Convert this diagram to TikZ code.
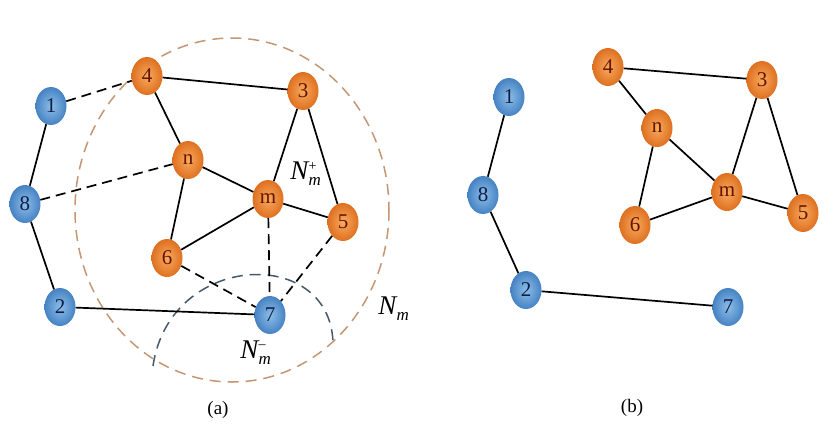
\documentclass[tikz,border=0pt]{standalone}
\usepackage{fontspec}
\setmainfont{Liberation Serif}
\usetikzlibrary{shapes.geometric}
\definecolor{orout}{RGB}{222,112,32}
\definecolor{orin}{RGB}{248,170,95}
\definecolor{blout}{RGB}{70,130,195}
\definecolor{blin}{RGB}{140,190,232}
\definecolor{ortxt}{RGB}{100,20,0}
\definecolor{bltxt}{RGB}{15,30,70}
\definecolor{bigring}{RGB}{196,150,115}
\definecolor{smallring}{RGB}{70,88,108}
\newcommand{\nlab}[2]{\textit{N}\kern-1pt$^{\mbox{\fontsize{14}{14}\selectfont #2}}_{\mbox{\fontsize{17}{17}\selectfont\textit{#1}}}$}
\begin{document}
\begin{tikzpicture}[x=1pt,y=-1pt,
  vert/.style={ellipse,minimum width=31pt,minimum height=38pt,inner sep=0pt,
    font=\fontsize{21}{21}\selectfont},
  orv/.style={vert,shading=radial,inner color=orin,outer color=orout,text=ortxt},
  blv/.style={vert,shading=radial,inner color=blin,outer color=blout,text=bltxt},
  lnk/.style={line width=1.7pt,black},
  dlnk/.style={lnk,dash pattern=on 10pt off 6pt},
  lab/.style={font=\fontsize{27}{27}\selectfont},
  captxt/.style={font=\fontsize{19}{19}\selectfont}]
\useasboundingbox (0,0) rectangle (839,440);
% rings
\draw[bigring,line width=1.5pt,dash pattern=on 11pt off 7pt] (232,210) ellipse [x radius=157, y radius=172];
\draw[smallring,line width=1.5pt,dash pattern=on 11pt off 7pt] (153,366) .. controls (170,250) and (335,245) .. (333,347);
% (a) nodes
\node[blv] (a1) at (51,106) {1};
\node[blv] (a8) at (25,204) {8};
\node[blv] (a2) at (60,307) {2};
\node[blv] (a7) at (270,315) {7};
\node[orv] (a4) at (147,76) {4};
\node[orv] (a3) at (303,91) {3};
\node[orv] (an) at (188,160) {n};
\node[orv] (am) at (268,199) {m};
\node[orv] (a5) at (343,222) {5};
\node[orv] (a6) at (167,258) {6};
% (a) edges
\draw[lnk] (a1) -- (a8);
\draw[lnk] (a8) -- (a2);
\draw[lnk] (a2) -- (a7);
\draw[lnk] (a4) -- (a3);
\draw[lnk] (a4) -- (an);
\draw[lnk] (a3) -- (am);
\draw[lnk] (a3) -- (a5);
\draw[lnk] (an) -- (am);
\draw[lnk] (an) -- (a6);
\draw[lnk] (am) -- (a6);
\draw[lnk] (am) -- (a5);
\draw[dlnk] (a1) -- (a4);
\draw[dlnk] (a8) -- (an);
\draw[dlnk] (a6) -- (a7);
\draw[dlnk] (am) -- (a7);
\draw[dlnk] (a5) -- (a7);
% labels
\node[lab] (lp) at (306,174) {\nlab{m}{+}};
\node[lab] (ln) at (394,309) {\nlab{m}{}};
\node[lab] (lm) at (256,353) {\nlab{m}{\raisebox{1pt}{--}}};
\node[captxt] (ca) at (218,410) {(a)};
% (b) nodes
\node[blv] (b1) at (509,97) {1};
\node[blv] (b8) at (483,195) {8};
\node[blv] (b2) at (526,290) {2};
\node[blv] (b7) at (728,307) {7};
\node[orv] (b4) at (608,67) {4};
\node[orv] (b3) at (762,80) {3};
\node[orv] (bn) at (657,128) {n};
\node[orv] (bm) at (727,192) {m};
\node[orv] (b5) at (803,213) {5};
\node[orv] (b6) at (635,225) {6};
\draw[lnk] (b1) -- (b8);
\draw[lnk] (b8) -- (b2);
\draw[lnk] (b2) -- (b7);
\draw[lnk] (b4) -- (b3);
\draw[lnk] (b4) -- (bn);
\draw[lnk] (bn) -- (bm);
\draw[lnk] (bn) -- (b6);
\draw[lnk] (b6) -- (bm);
\draw[lnk] (bm) -- (b3);
\draw[lnk] (bm) -- (b5);
\draw[lnk] (b3) -- (b5);
\node[captxt] (cb) at (632,408) {(b)};
\end{tikzpicture}
\end{document}
